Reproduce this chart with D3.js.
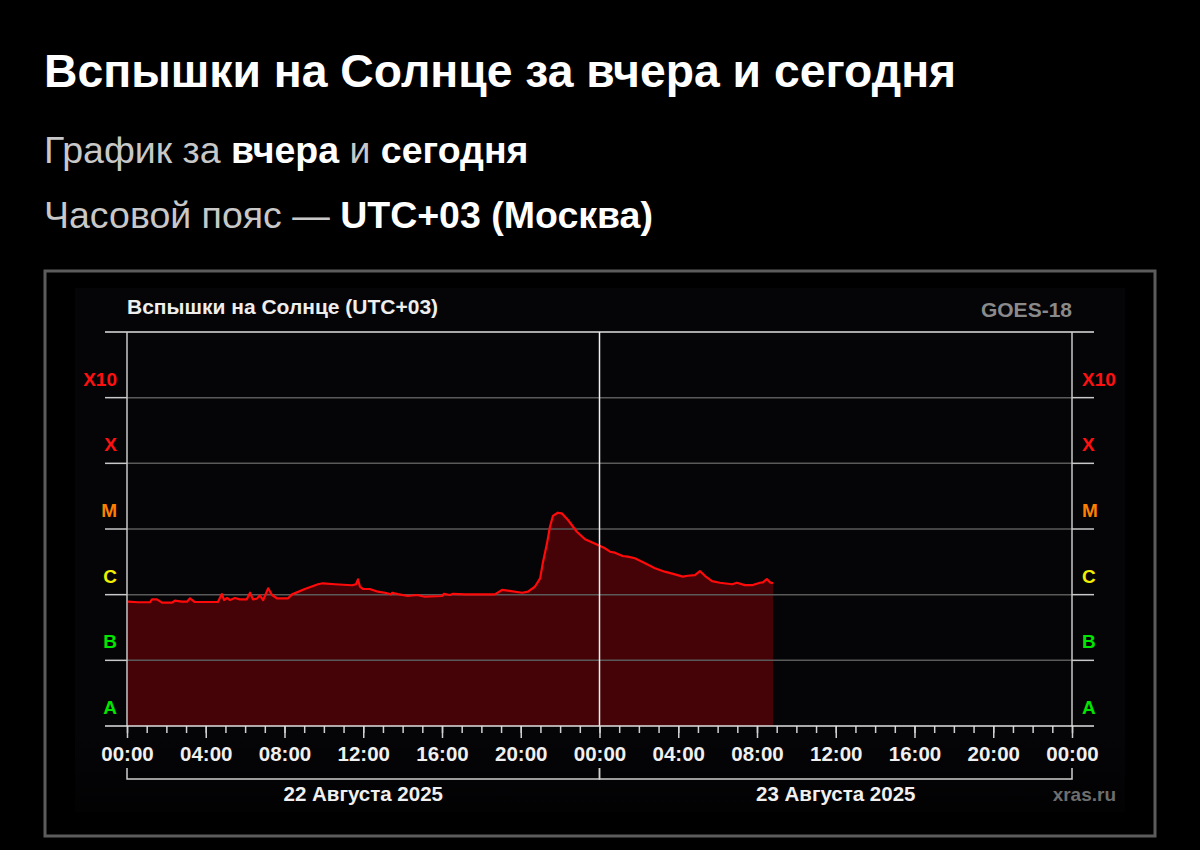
<!DOCTYPE html>
<html><head><meta charset="utf-8">
<script src="https://cdn.jsdelivr.net/npm/d3@7"></script>
<style>
html,body{margin:0;padding:0;background:#000;}
svg{display:block;}
</style></head>
<body>
<svg id="c" width="1200" height="850"></svg>
<script>
// ---- data (UTC+03 local times, GOES-18 X-ray flux, W/m²) ----
const times = [
 "2025-08-22 00:03","2025-08-22 00:34","2025-08-22 01:10","2025-08-22 01:16","2025-08-22 01:31","2025-08-22 01:47",
 "2025-08-22 02:17","2025-08-22 02:26","2025-08-22 02:47","2025-08-22 03:03","2025-08-22 03:12","2025-08-22 03:27",
 "2025-08-22 04:37","2025-08-22 04:49","2025-08-22 04:56","2025-08-22 05:05","2025-08-22 05:14","2025-08-22 05:29",
 "2025-08-22 05:44","2025-08-22 06:05","2025-08-22 06:15","2025-08-22 06:24","2025-08-22 06:36","2025-08-22 06:45",
 "2025-08-22 06:55","2025-08-22 07:10","2025-08-22 07:22","2025-08-22 07:37","2025-08-22 08:11","2025-08-22 08:23",
 "2025-08-22 09:02","2025-08-22 09:42","2025-08-22 09:57","2025-08-22 10:34","2025-08-22 11:26","2025-08-22 11:38",
 "2025-08-22 11:44","2025-08-22 11:50","2025-08-22 11:59","2025-08-22 12:20","2025-08-22 12:45","2025-08-22 13:06",
 "2025-08-22 13:25","2025-08-22 13:28","2025-08-22 13:46","2025-08-22 14:16","2025-08-22 14:44","2025-08-22 15:08",
 "2025-08-22 16:00","2025-08-22 16:06","2025-08-22 16:24","2025-08-22 16:34","2025-08-22 17:10","2025-08-22 18:41",
 "2025-08-22 19:03","2025-08-22 19:21","2025-08-22 20:04","2025-08-22 20:22","2025-08-22 20:43","2025-08-22 20:59",
 "2025-08-22 21:08","2025-08-22 21:20","2025-08-22 21:29","2025-08-22 21:38","2025-08-22 21:53","2025-08-22 22:05",
 "2025-08-22 22:24","2025-08-22 22:51","2025-08-22 23:16","2025-08-22 23:40",
 "2025-08-23 00:07","2025-08-23 00:17","2025-08-23 00:32","2025-08-23 00:47","2025-08-23 01:11","2025-08-23 01:26",
 "2025-08-23 01:48","2025-08-23 02:19","2025-08-23 02:49","2025-08-23 03:19","2025-08-23 03:50","2025-08-23 04:14",
 "2025-08-23 04:29","2025-08-23 04:51","2025-08-23 05:06","2025-08-23 05:22","2025-08-23 05:43","2025-08-23 06:07",
 "2025-08-23 06:44","2025-08-23 06:59","2025-08-23 07:23","2025-08-23 07:47","2025-08-23 08:09","2025-08-23 08:18",
 "2025-08-23 08:30","2025-08-23 08:40","2025-08-23 08:49"
];
const flux = [
 7.82e-7,7.66e-7,7.66e-7,8.49e-7,8.49e-7,7.55e-7,
 7.55e-7,8.09e-7,7.82e-7,7.82e-7,8.81e-7,7.73e-7,
 7.73e-7,1.02e-6,8.29e-7,8.89e-7,8.29e-7,8.89e-7,
 8.49e-7,8.49e-7,1.07e-6,8.49e-7,8.70e-7,9.78e-7,
 8.29e-7,1.25e-6,9.89e-7,8.81e-7,8.81e-7,1.01e-6,
 1.22e-6,1.44e-6,1.49e-6,1.44e-6,1.39e-6,1.44e-6,
 1.71e-6,1.32e-6,1.22e-6,1.22e-6,1.11e-6,1.07e-6,
 1.01e-6,1.07e-6,1.02e-6,9.54e-7,9.89e-7,9.31e-7,
 9.54e-7,1.03e-6,9.89e-7,1.03e-6,1.01e-6,1.01e-6,
 1.18e-6,1.15e-6,1.07e-6,1.11e-6,1.32e-6,1.77e-6,
 3.18e-6,6.05e-6,1.08e-5,1.58e-5,1.77e-5,1.73e-5,
 1.37e-5,9.09e-6,6.97e-6,6.18e-6,
 5.37e-6,5.08e-6,4.51e-6,4.36e-6,3.88e-6,3.79e-6,
 3.58e-6,3.00e-6,2.52e-6,2.24e-6,2.04e-6,1.88e-6,
 1.94e-6,1.99e-6,2.29e-6,1.92e-6,1.61e-6,1.52e-6,
 1.44e-6,1.52e-6,1.40e-6,1.40e-6,1.52e-6,1.54e-6,
 1.73e-6,1.54e-6,1.49e-6
];
const classLabels = ["A","B","C","M","X","X10"];
const classLower = [1e-8,1e-7,1e-6,1e-5,1e-4,1e-3];
const dayStarts = ["2025-08-22 00:00","2025-08-23 00:00","2025-08-24 00:00"];
const dayLabels = ["22 Августа 2025","23 Августа 2025"];

const classColor = {A:"#00e600",B:"#00e600",C:"#f0f000",M:"#ff8000",X:"#ff1010",X10:"#ff1010"};

const parse = d3.utcParse("%Y-%m-%d %H:%M");
const data = times.map((t,i)=>({t:parse(t), v:flux[i]}));
const days = dayStarts.map(parse);

const svg = d3.select("#c");
const FONT = "'Liberation Sans', Arial, Helvetica, sans-serif";

// ---- header ----
svg.append("text").attr("x",44).attr("y",87).attr("fill","#fff")
  .attr("font-family",FONT).attr("font-weight","bold").attr("font-size",46.3)
  .text("Вспышки на Солнце за вчера и сегодня");
const sub1 = svg.append("text").attr("x",44).attr("y",163).attr("font-family",FONT).attr("font-size",37.5).attr("fill","#c8c8c8");
sub1.append("tspan").text("График за ");
sub1.append("tspan").attr("font-weight","bold").attr("fill","#fff").text("вчера");
sub1.append("tspan").text(" и ");
sub1.append("tspan").attr("font-weight","bold").attr("fill","#fff").text("сегодня");
const sub2 = svg.append("text").attr("x",44).attr("y",228).attr("font-family",FONT).attr("font-size",37.5).attr("fill","#c8c8c8");
sub2.append("tspan").text("Часовой пояс — ");
sub2.append("tspan").attr("font-weight","bold").attr("fill","#fff").text("UTC+03 (Москва)");

// ---- frame & panel ----
svg.append("rect").attr("x",45).attr("y",271).attr("width",1110).attr("height",565)
  .attr("fill","#000").attr("stroke","#5c5c5c").attr("stroke-width",3);
const grad = svg.append("defs").append("linearGradient").attr("id","pg").attr("x1",0).attr("y1",0).attr("x2",0).attr("y2",1);
grad.append("stop").attr("offset","0").attr("stop-color","#050407");
grad.append("stop").attr("offset","0.85").attr("stop-color","#050407");
grad.append("stop").attr("offset","1").attr("stop-color","#020203");
svg.append("rect").attr("x",75).attr("y",288).attr("width",1050).attr("height",524).attr("fill","url(#pg)");

// ---- scales ----
const L=127, R=1072, T=332, B=726;
const x = d3.scaleUtc().domain([days[0], days[2]]).range([L,R]);
const y = d3.scaleLog().domain([1e-8,1e-2]).range([B,T]);

// panel titles
svg.append("text").attr("x",L).attr("y",314).attr("fill","#eee").attr("font-family",FONT)
  .attr("font-weight","bold").attr("font-size",21).text("Вспышки на Солнце (UTC+03)");
svg.append("text").attr("x",R).attr("y",317).attr("text-anchor","end").attr("fill","#8a8a8a").attr("font-family",FONT)
  .attr("font-weight","bold").attr("font-size",21).text("GOES-18");
svg.append("text").attr("x",1116).attr("y",801).attr("text-anchor","end").attr("fill","#6e6e6e").attr("font-family",FONT)
  .attr("font-weight","bold").attr("font-size",19).text("xras.ru");

// ---- area + line ----
const area = d3.area().x(d=>x(d.t)).y0(B).y1(d=>y(d.v));
const line = d3.line().x(d=>x(d.t)).y(d=>y(d.v));
svg.append("path").datum(data).attr("d",area).attr("fill","#450307");

// grid lines (horizontal)
const grid = classLower.slice(1);
svg.append("g").selectAll("line").data(grid).join("line")
  .attr("x1",L).attr("x2",R).attr("y1",d=>y(d)).attr("y2",d=>y(d))
  .attr("stroke","#5a5a5a").attr("stroke-width",1.5);
// side ticks
svg.append("g").selectAll("line").data(grid).join("line")
  .attr("x1",105).attr("x2",L).attr("y1",d=>y(d)).attr("y2",d=>y(d)).attr("stroke","#c8c8c8").attr("stroke-width",1.5);
svg.append("g").selectAll("line").data(grid).join("line")
  .attr("x1",R).attr("x2",1094).attr("y1",d=>y(d)).attr("y2",d=>y(d)).attr("stroke","#c8c8c8").attr("stroke-width",1.5);

svg.append("path").datum(data).attr("d",line).attr("fill","none").attr("stroke","#ff0a0a")
  .attr("stroke-width",2.2).attr("stroke-linejoin","round");

// top line and axis line
svg.append("line").attr("x1",105).attr("x2",1094).attr("y1",T).attr("y2",T).attr("stroke","#e0e0e0").attr("stroke-width",1.5);
// verticals
svg.append("g").selectAll("line").data(days).join("line")
  .attr("x1",d=>x(d)).attr("x2",d=>x(d)).attr("y1",T).attr("y2",B)
  .attr("stroke",(d,i)=>i===1?"#f0f0f0":"#c8c8c8").attr("stroke-width",1.5);

// y class labels
const lbl = svg.append("g").attr("font-family",FONT).attr("font-weight","bold").attr("font-size",19);
lbl.selectAll("text.l").data(classLabels).join("text").attr("class","l")
  .attr("x",117).attr("y",(d,i)=>y(classLower[i])-12).attr("text-anchor","end")
  .attr("fill",d=>classColor[d]).text(d=>d);
lbl.selectAll("text.r").data(classLabels).join("text").attr("class","r")
  .attr("x",1082).attr("y",(d,i)=>y(classLower[i])-12).attr("text-anchor","start")
  .attr("fill",d=>classColor[d]).text(d=>d);

// ---- x axis ----
const minorAx = d3.axisBottom(x).ticks(d3.utcHour.every(1)).tickSize(7).tickFormat("");
const majorAx = d3.axisBottom(x).ticks(d3.utcHour.every(4)).tickSize(12).tickPadding(8).tickFormat(d3.utcFormat("%H:%M"));
const gMin = svg.append("g").attr("transform",`translate(0,${B})`).call(minorAx);
const gMaj = svg.append("g").attr("transform",`translate(0,${B})`).call(majorAx);
[gMin,gMaj].forEach(g=>{
  g.select(".domain").remove();
  g.selectAll(".tick line").attr("stroke","#d0d0d0").attr("stroke-width",1.5);
});
gMaj.selectAll(".tick text").attr("fill","#f0f0f0").attr("font-family",FONT).attr("font-weight","bold").attr("font-size",20.5);
svg.append("line").attr("x1",105).attr("x2",1094).attr("y1",B).attr("y2",B).attr("stroke","#e0e0e0").attr("stroke-width",1.5);

// date brackets
const br = svg.append("g");
dayLabels.forEach((lab,i)=>{
  const a = x(days[i]), b = x(days[i+1]);
  br.append("path").attr("d",`M${a},768V779H${b}V768`).attr("fill","none").attr("stroke","#d0d0d0").attr("stroke-width",1.5);
  br.append("text").attr("x",(a+b)/2).attr("y",801).attr("text-anchor","middle").attr("fill","#f0f0f0")
    .attr("font-family",FONT).attr("font-weight","bold").attr("font-size",20.5).text(lab);
});
</script>
</body></html>
